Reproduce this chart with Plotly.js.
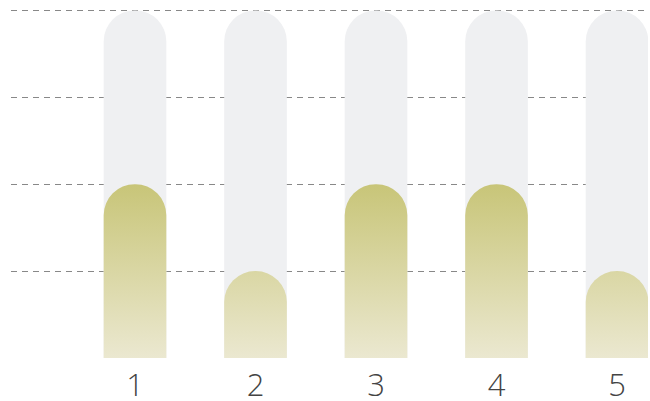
<!DOCTYPE html>
<html>
<head>
<meta charset="utf-8">
<script src="https://cdn.plot.ly/plotly-3.0.1.min.js"></script>
<style>
  html, body { margin: 0; padding: 0; background: #ffffff; }
  #chart { width: 650px; height: 401px; }
</style>
</head>
<body>
<div id="chart"></div>
<script>
// Categories and values
const categories = [1, 2, 3, 4, 5];
const values = [2, 1, 2, 2, 1];
const capacity = [4, 4, 4, 4, 4];
const tickLabels = ['1', '2', '3', '4', '5'];
const gridValues = [1, 2, 3, 4];

const BAR_WIDTH = 0.52;
const Y_RANGE = [0, 4.04];

// Full-height pill tracks behind each value bar
const trackTrace = {
  type: 'bar',
  x: categories,
  y: capacity,
  width: BAR_WIDTH,
  yaxis: 'y',
  marker: { color: '#eff0f2', cornerradius: '50%', line: { width: 0 } },
  hoverinfo: 'skip',
  showlegend: false
};

// Value bars on an overlaid twin y axis so each gets its own rounded top
const valueTrace = {
  type: 'bar',
  x: categories,
  y: values,
  width: BAR_WIDTH,
  yaxis: 'y2',
  marker: { color: '#d6d39f', cornerradius: '50%', line: { width: 0 } },
  hoverinfo: 'skip',
  showlegend: false
};

const layout = {
  width: 650,
  height: 401,
  margin: { l: 11, r: 2, t: 7, b: 43, pad: 0 },
  paper_bgcolor: '#ffffff',
  plot_bgcolor: '#ffffff',
  barmode: 'overlay',
  showlegend: false,
  xaxis: {
    range: [-0.029, 5.257],
    tickmode: 'array',
    tickvals: categories,
    ticktext: tickLabels,
    showgrid: false,
    zeroline: false,
    showline: false,
    ticks: '',
    ticklabelstandoff: 6,
    tickfont: { family: 'Open Sans, Lato, sans-serif', size: 31, color: '#444444', weight: 300 }
  },
  yaxis: {
    range: Y_RANGE,
    tickmode: 'array',
    tickvals: gridValues,
    showticklabels: false,
    showgrid: true,
    gridcolor: '#888888',
    gridwidth: 1,
    griddash: '6px,5px',
    zeroline: false,
    showline: false,
    ticks: ''
  },
  yaxis2: {
    range: Y_RANGE,
    overlaying: 'y',
    showticklabels: false,
    showgrid: false,
    zeroline: false,
    showline: false,
    ticks: ''
  }
};

const gd = document.getElementById('chart');
Plotly.newPlot(gd, [trackTrace, valueTrace], layout, { staticPlot: true, displayModeBar: false }).then(function () {
  // Vertical gradient shared across the value bars, tied to the value scale
  const ya = gd._fullLayout.yaxis2;
  const svg = gd.querySelector('svg.main-svg');
  const ns = 'http://www.w3.org/2000/svg';
  let defs = svg.querySelector('defs');
  if (!defs) { defs = document.createElementNS(ns, 'defs'); svg.insertBefore(defs, svg.firstChild); }
  const grad = document.createElementNS(ns, 'linearGradient');
  grad.setAttribute('id', 'valueGradient');
  grad.setAttribute('gradientUnits', 'userSpaceOnUse');
  grad.setAttribute('x1', '0');
  grad.setAttribute('x2', '0');
  grad.setAttribute('y1', String(ya.l2p(Math.max.apply(null, values))));
  grad.setAttribute('y2', String(ya.l2p(0)));
  [['0', '#c8c578'], ['1', '#ebe8d0']].forEach(function (s) {
    const stop = document.createElementNS(ns, 'stop');
    stop.setAttribute('offset', s[0]);
    stop.setAttribute('stop-color', s[1]);
    grad.appendChild(stop);
  });
  defs.appendChild(grad);
  const overlay = gd.querySelectorAll('.overplot .xy2 .barlayer .trace.bars path');
  const paths = overlay.length ? overlay : gd.querySelectorAll('.barlayer .trace.bars:last-child path');
  paths.forEach(function (p) { p.style.fill = 'url(#valueGradient)'; });
});
</script>
</body>
</html>
